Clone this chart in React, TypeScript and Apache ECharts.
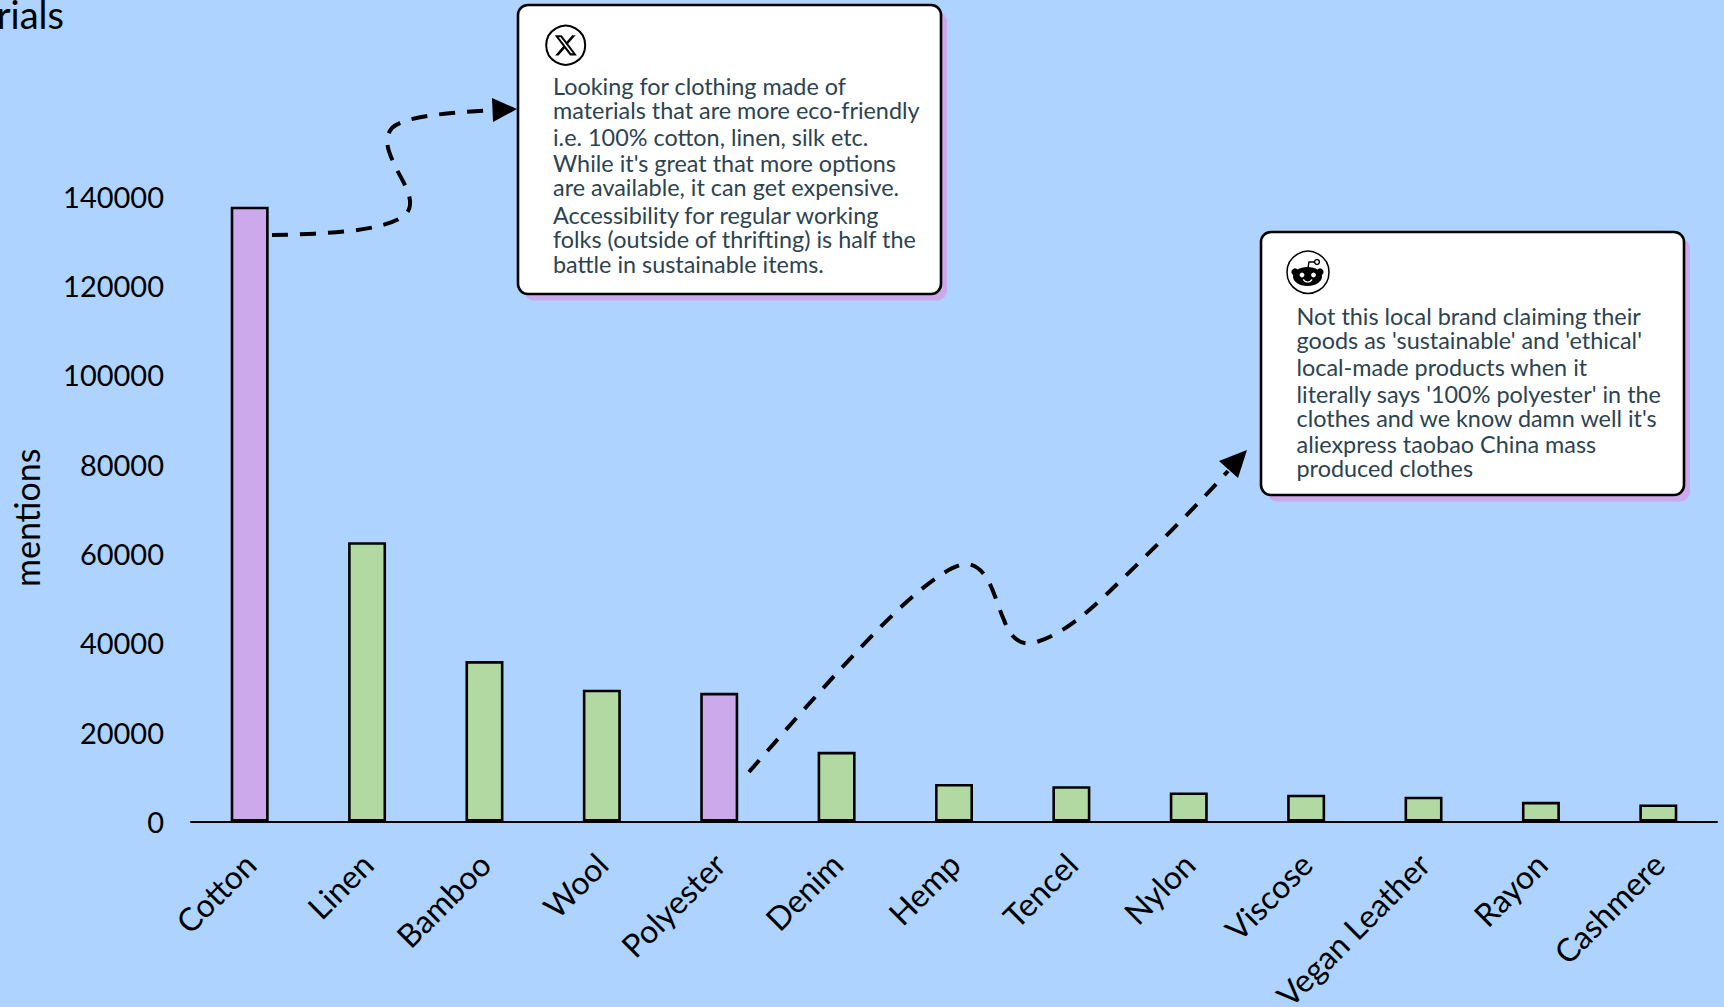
import React, { useEffect, useRef } from "react";
import * as echarts from "echarts";

const categories = ["Cotton", "Linen", "Bamboo", "Wool", "Polyester", "Denim", "Hemp", "Tencel", "Nylon", "Viscose", "Vegan Leather", "Rayon", "Cashmere"];
const mentions = [137600, 62500, 35900, 29500, 28800, 15600, 8400, 7900, 6500, 6000, 5550, 4400, 3800];
const highlighted = ["Cotton", "Polyester"];
const tweetLines = [
  "Looking for clothing made of",
  "materials that are more eco-friendly",
  "i.e. 100% cotton, linen, silk etc.",
  "While it's great that more options",
  "are available, it can get expensive.",
  "Accessibility for regular working",
  "folks (outside of thrifting) is half the",
  "battle in sustainable items.",
];
const redditLines = [
  "Not this local brand claiming their",
  "goods as 'sustainable' and 'ethical'",
  "local-made products when it",
  "literally says '100% polyester' in the",
  "clothes and we know damn well it's",
  "aliexpress taobao China mass",
  "produced clothes",
];
const tweetBaselines = [95, 119, 146, 172, 196, 224, 248, 273];
const redditBaselines = [325, 349, 376, 403, 427, 453, 477];

const FONT = "Lato";
const BG = "#AED3FF";
const PURPLE = "#CCA9EA";
const GREEN = "#B3D9A3";
const INK = "#2C4350";

echarts.graphic.registerShape("xlogo", echarts.graphic.extendPath("M18.244 2.25h3.308l-7.227 8.26 8.502 11.24H16.17l-5.214-6.817L4.99 21.75H1.68l7.73-8.835L1.254 2.25H8.08l4.713 6.231zm-1.161 17.52h1.833L7.084 4.126H5.117z", {}));
echarts.graphic.registerShape("curveA", echarts.graphic.extendPath("M272 235 C320 234 385 232 405 215 C418 203 403 182 396 168 C390 155 382 140 392 128 C405 116 445 113 495 110", {}));
echarts.graphic.registerShape("curveB", echarts.graphic.extendPath("M749 772 C790 725 860 645 900 608 C930 580 955 563 968 564 C990 568 994 598 1004 620 C1011 640 1022 645 1033 643 C1060 636 1085 615 1110 591 C1150 552 1195 508 1228 471", {}));

function card(x: number, y: number, w: number, h: number) {
  return [
    { type: "rect", shape: { x: x + 6, y: y + 6.5, width: w, height: h, r: 10 }, style: { fill: PURPLE }, z: 10 },
    { type: "rect", shape: { x, y, width: w, height: h, r: 10 }, style: { fill: "#fff", stroke: "#000", lineWidth: 2.6 }, z: 11 },
  ];
}
function lines(list: string[], baselines: number[], x: number) {
  return list.map((t, i) => ({
    type: "text", x, y: baselines[i] - 9, z: 12,
    style: { text: t, fill: INK, font: `400 23.4px ${FONT}`, verticalAlign: "middle", align: "left" },
  }));
}
function curve(type: string) {
  return { type, x: 0, y: 0, z: 9, style: { fill: "none", stroke: "#000", lineWidth: 4, lineDash: [16, 12] } };
}

export default function App() {
  const ref = useRef<HTMLDivElement>(null);
  useEffect(() => {
    document.body.style.margin = "0";
    const chart = echarts.init(ref.current!, undefined, { renderer: "svg" });
    chart.setOption({
      animation: false,
      backgroundColor: BG,
      grid: { left: 191, right: 7, top: 196, bottom: 185.5, containLabel: false, outerBoundsMode: "none" },
      xAxis: {
        type: "category",
        data: categories,
        axisLine: { lineStyle: { color: "#000", width: 2 } },
        axisTick: { show: false },
        axisLabel: { rotate: 45, interval: 0, margin: 37, color: "#000", fontSize: 32, fontFamily: FONT },
      },
      yAxis: {
        type: "value",
        min: 0,
        max: 140000,
        interval: 20000,
        name: "mentions",
        nameLocation: "middle",
        nameGap: 148,
        nameTextStyle: { color: "#000", fontSize: 34, fontFamily: FONT, padding: [0, 18, 0, 0] },
        axisLine: { show: false },
        axisTick: { show: false },
        splitLine: { show: false },
        axisLabel: { margin: 27, color: "#000", fontSize: 29, fontFamily: FONT, padding: [0, 0, 2, 0], formatter: (v: number) => String(v) },
      },
      series: [{
        type: "bar",
        barWidth: 38,
        data: mentions.map((v, i) => ({
          value: v,
          itemStyle: { color: highlighted.includes(categories[i]) ? PURPLE : GREEN, borderColor: "#000", borderWidth: 2.6 },
        })),
      }],
      graphic: [
        { type: "text", x: 64, y: 14, style: { text: "rials", fill: "#000", font: `400 38px ${FONT}`, align: "right", verticalAlign: "middle" } },
        curve("curveA"),
        curve("curveB"),
        { type: "polygon", z: 9, shape: { points: [[517, 109], [492, 98], [493, 122]] }, style: { fill: "#000" } },
        { type: "polygon", z: 9, shape: { points: [[1247, 450], [1219, 461], [1238, 478]] }, style: { fill: "#000" } },
        ...card(518, 5, 423, 289),
        ...lines(tweetLines, tweetBaselines, 553),
        { type: "circle", z: 12, shape: { cx: 565.7, cy: 45.3, r: 19.5 }, style: { fill: "#fff", stroke: "#000", lineWidth: 2 } },
        { type: "xlogo", z: 13, x: 553.4, y: 33, scaleX: 1.03, scaleY: 1.03, style: { fill: "#000" } },
        ...card(1261, 232, 423, 263),
        ...lines(redditLines, redditBaselines, 1296.5),
        { type: "circle", z: 12, shape: { cx: 1308, cy: 272.3, r: 21 }, style: { fill: "#fff", stroke: "#000", lineWidth: 1.5 } },
        { type: "circle", z: 13, shape: { cx: 1295, cy: 272, r: 3.6 }, style: { fill: "#000" } },
        { type: "circle", z: 13, shape: { cx: 1320, cy: 272, r: 3.6 }, style: { fill: "#000" } },
        { type: "ellipse", z: 13, shape: { cx: 1307.5, cy: 276.5, rx: 14.5, ry: 9.5 }, style: { fill: "#000" } },
        { type: "polyline", z: 13, shape: { points: [[1308, 268], [1309, 262], [1316, 262]] }, style: { fill: "none", stroke: "#000", lineWidth: 1.4 } },
        { type: "circle", z: 13, shape: { cx: 1317, cy: 262, r: 2.4 }, style: { fill: "#fff", stroke: "#000", lineWidth: 1.4 } },
        { type: "circle", z: 14, shape: { cx: 1302, cy: 275, r: 2.4 }, style: { fill: "#fff" } },
        { type: "circle", z: 14, shape: { cx: 1313.5, cy: 275, r: 2.4 }, style: { fill: "#fff" } },
        { type: "arc", z: 14, shape: { cx: 1307.7, cy: 277, r: 5, startAngle: 0.5, endAngle: 2.64 }, style: { fill: "none", stroke: "#fff", lineWidth: 1.2 } },
      ],
    });
    return () => chart.dispose();
  }, []);
  return <div ref={ref} style={{ position: "absolute", left: 0, top: 0, width: 1724, height: 1007 }} />;
}
